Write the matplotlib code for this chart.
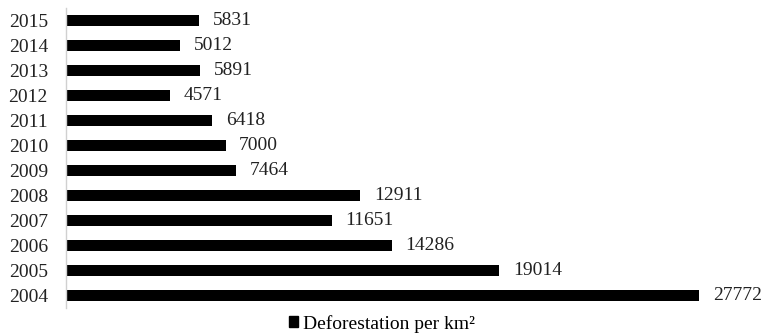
import matplotlib
matplotlib.use('Agg')
from matplotlib import pyplot as plt
from matplotlib.patches import Patch

years = ['2004', '2005', '2006', '2007', '2008', '2009',
         '2010', '2011', '2012', '2013', '2014', '2015']
deforestation = [27772, 19014, 14286, 11651, 12911, 7464,
                 7000, 6418, 4571, 5891, 5012, 5831]
series_name = 'Deforestation per km²'

plt.rcParams['font.family'] = ['Liberation Serif', 'DejaVu Serif']

fig = plt.figure(figsize=(7.64, 3.35), dpi=100)
ax = fig.add_axes([0.0864, 0.0806, 0.895, 0.8955])

ypos = range(len(years))
ax.barh(ypos, deforestation, height=0.42, color='black')
for y, v in zip(ypos, deforestation):
    ax.text(v + 600, y, str(v), va='center', ha='left', fontsize=14, color='#222222')

ax.set_yticks(list(ypos))
ax.set_yticklabels(years, fontsize=14, color='#222222')
ax.set_ylim(-0.5, len(years) - 0.5)
ax.set_xlim(0, 30000)
ax.set_xticks([])
ax.tick_params(axis='y', length=0, pad=13)
for side in ['top', 'right', 'bottom']:
    ax.spines[side].set_visible(False)
ax.spines['left'].set_color('#d0d0d0')
ax.spines['left'].set_linewidth(1)

handle = Patch(facecolor='black', edgecolor='black')
fig.legend([handle], [series_name], loc='lower center', bbox_to_anchor=(0.5, -0.045),
           frameon=False, fontsize=14, handlelength=0.5, handleheight=0.5,
           handletextpad=0.25)

fig.savefig('out.png', dpi=100)
